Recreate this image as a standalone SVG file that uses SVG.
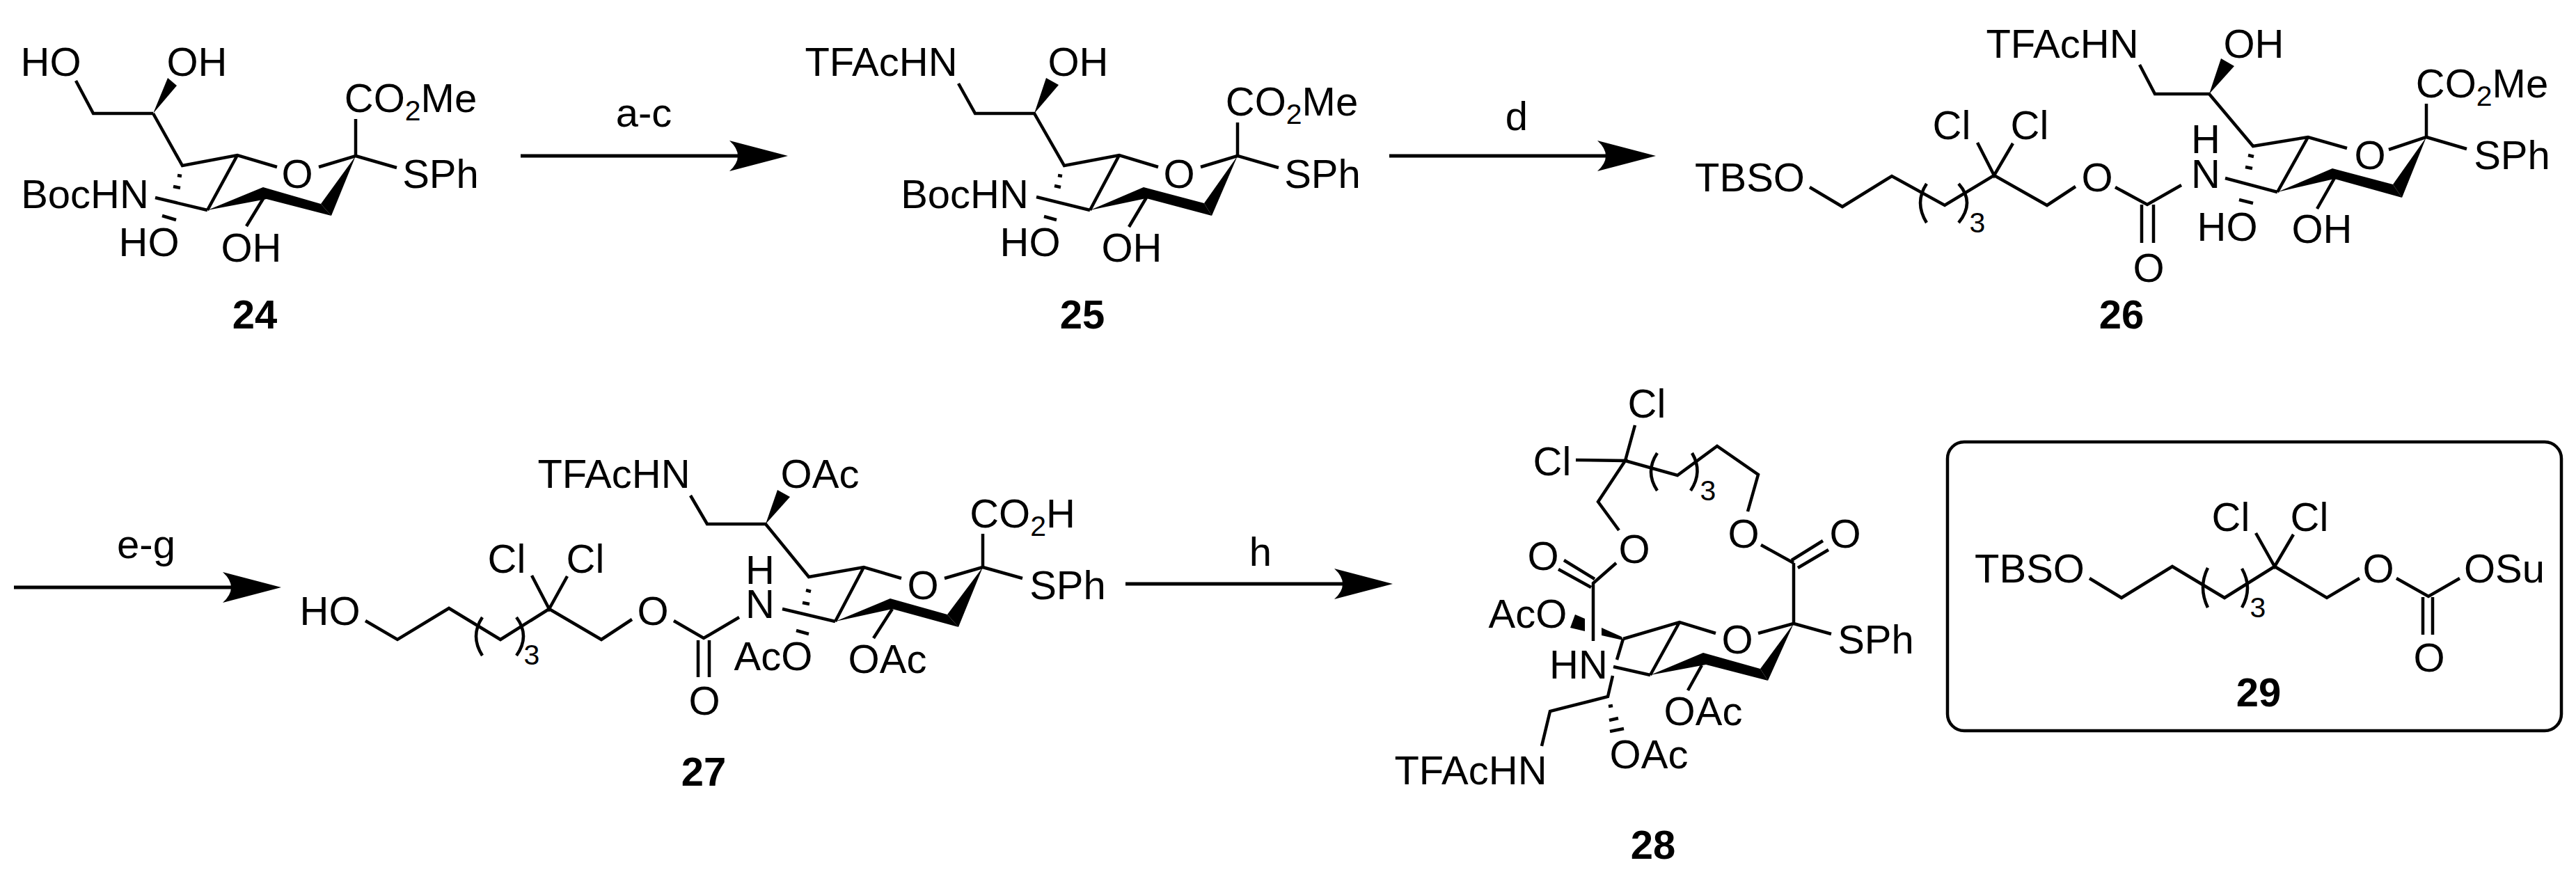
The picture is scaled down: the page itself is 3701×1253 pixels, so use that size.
<svg xmlns="http://www.w3.org/2000/svg" width="3701" height="1253" viewBox="0 0 3701 1253">
<style>
text{font-family:"Liberation Sans",Arial,sans-serif;font-size:58px;fill:#000;text-anchor:middle}
.num{font-weight:bold}
.sub{font-size:41px}
.bond{fill:none;stroke:#000;stroke-width:4.5;stroke-linecap:butt;stroke-linejoin:miter}
.hash{fill:none;stroke:#000;stroke-width:4.5}
.solid{fill:#000;stroke:none}
.arrow{fill:none;stroke:#000;stroke-width:5;marker-end:url(#head)}
.box{fill:none;stroke:#000;stroke-width:4.5}
</style>
<defs>
<marker id="head" markerUnits="userSpaceOnUse" markerWidth="90" markerHeight="50" refX="12" refY="22" orient="auto">
<path d="M0,0 L84,22 L0,44 Q24,22 0,0Z" fill="#000"/>
</marker>
</defs>
<rect width="3701" height="1253" fill="#fff"/>
<g id="connectors">
<path class="arrow" d="M748,224H1060"/>
<path class="arrow" d="M1996,224H2307"/>
<path class="arrow" d="M20,844H332"/>
<path class="arrow" d="M1617,839H1929"/>
</g>
<g id="arrow-labels">
<text x="925" y="182">a-c</text>
<text x="2179" y="187">d</text>
<text x="210" y="802">e-g</text>
<text x="1811" y="813">h</text>
</g>
<g id="compound-24">
<path class="bond" d="M109,116L134,163H220M220,163L262,238L341,223L398,240M458,240L511,224V171M511,224L570,241M341,223L298,302M223,284L298,302M379,284L354,325"/>
<path class="solid" d="M220,163L241,112L254,123Z"/>
<path class="solid" d="M511,224L461,293L476,310Z"/>
<path class="solid" d="M298,302L378,269L461,293L476,310L383,286Z"/>
<path class="hash" d="M255,252L261,253M249,268L259,270M233,310L253,316"/>
<text x="73" y="109">HO</text>
<text x="283" y="109">OH</text>
<text x="427" y="270">O</text>
<text x="590" y="161">CO<tspan class="sub" dy="12">2</tspan><tspan dy="-12">Me</tspan></text>
<text x="633" y="270">SPh</text>
<text x="122" y="299">BocHN</text>
<text x="214" y="368">HO</text>
<text x="361" y="376">OH</text>
<text class="num" x="366" y="472">24</text>
</g>
<g id="compound-25">
<path class="bond" d="M1377,120L1401,163H1486L1529,238L1608,223L1664,240M1725,240L1778,224V176M1778,224L1837,241M1608,223L1566,302M1489,283L1566,302M1647,284L1622,326"/>
<path class="solid" d="M1486,163L1503,112L1521,122Z"/>
<path class="solid" d="M1778,224L1730,292L1741,310Z"/>
<path class="solid" d="M1566,302L1643,269L1730,292L1741,310L1647,285Z"/>
<path class="hash" d="M1520,252L1526,253M1515,267L1524,269M1500,311L1518,316"/>
<text x="1266" y="109">TFAcHN</text>
<text x="1549" y="109">OH</text>
<text x="1694" y="270">O</text>
<text x="1856" y="166">CO<tspan class="sub" dy="12">2</tspan><tspan dy="-12">Me</tspan></text>
<text x="1900" y="270">SPh</text>
<text x="1386" y="299">BocHN</text>
<text x="1480" y="368">HO</text>
<text x="1626" y="376">OH</text>
<text class="num" x="1555" y="472">25</text>
</g>
<g id="compound-26">
<path class="bond" d="M3074,93L3096,135H3174L3237,210L3316,197L3372,213M3432,215L3486,197V149M3486,197L3544,214M3316,197L3272,276M3197,256L3272,276M3354,256L3329,300M3134,266L3085,294L3039,269M2982,268L2941,295L2865,252M2841,205L2865,252L2892,206M2865,252L2794,295L2718,253L2647,297L2600,269"/>
<path class="bond" d="M3077,294V349M3094,294V349"/>
<path class="bond" d="M2768,264Q2750,291 2768,320M2814,264Q2838,291 2814,320"/>
<path class="solid" d="M3174,135L3191,84L3210,95Z"/>
<path class="solid" d="M3486,197L3438,265L3451,284Z"/>
<path class="solid" d="M3272,276L3351,242L3438,265L3451,284L3354,257Z"/>
<path class="hash" d="M3230,223L3238,225M3226,240L3236,242M3217,287L3237,292"/>
<text x="2963" y="83">TFAcHN</text>
<text x="3238" y="83">OH</text>
<text x="3405" y="243">O</text>
<text x="3566" y="140">CO<tspan class="sub" dy="12">2</tspan><tspan dy="-12">Me</tspan></text>
<text x="3609" y="243">SPh</text>
<text x="3169" y="220">H</text>
<text x="3169" y="270">N</text>
<text x="3013" y="275">O</text>
<text x="3087" y="405">O</text>
<text x="2804" y="200">Cl</text>
<text x="2916" y="200">Cl</text>
<text x="2514" y="275">TBSO</text>
<text class="sub" x="2841" y="334">3</text>
<text x="3200" y="346">HO</text>
<text x="3336" y="349">OH</text>
<text class="num" x="3048" y="472">26</text>
</g>
<g id="compound-27">
<path class="bond" d="M992,712L1016,753H1100L1162,829L1241,815L1295,831M1357,831L1412,815V767M1412,815L1469,831M1241,815L1200,893M1124,875L1200,893M1282,875L1255,917M1062,887L1011,917L968,892M908,890L864,919L789,875M764,827L789,875L815,828M789,875L719,919L645,874L571,919L525,892"/>
<path class="bond" d="M1003,920V973M1019,920V973"/>
<path class="bond" d="M693,887Q675,914 693,942M742,887Q762,914 742,942"/>
<path class="solid" d="M1100,753L1117,704L1135,714Z"/>
<path class="solid" d="M1412,815L1361,883L1377,901Z"/>
<path class="solid" d="M1200,893L1279,860L1361,883L1377,901L1282,875Z"/>
<path class="hash" d="M1158,848L1165,850M1153,866L1163,868M1144,906L1162,911"/>
<text x="882" y="701">TFAcHN</text>
<text x="1178" y="701">OAc</text>
<text x="1326" y="861">O</text>
<text x="1469" y="758">CO<tspan class="sub" dy="12">2</tspan><tspan dy="-12">H</tspan></text>
<text x="1534" y="861">SPh</text>
<text x="1092" y="839">H</text>
<text x="1092" y="888">N</text>
<text x="938" y="898">O</text>
<text x="1012" y="1027">O</text>
<text x="728" y="823">Cl</text>
<text x="841" y="823">Cl</text>
<text x="474" y="898">HO</text>
<text class="sub" x="764" y="955">3</text>
<text x="1111" y="963">AcO</text>
<text x="1275" y="967">OAc</text>
<text class="num" x="1011" y="1129">27</text>
</g>
<g id="compound-28">
<path class="solid" d="M2263,883L2256,902L2277,907V889Z"/>
<path class="solid" d="M2301,902V913L2332,920L2330,915Z"/>
<path class="bond" d="M2349,611L2335,662M2264,661L2335,662L2296,721L2326,762M2322,809L2289,838V921M2247,805L2291,832M2239,818L2286,844M2332,918L2413,894L2465,910M2526,910L2577,896V809M2574,805L2619,777M2583,816L2627,790M2577,809L2530,783M2511,735L2526,682L2467,641L2410,683L2335,662M2577,896L2631,911M2413,894L2371,970M2332,918L2323,948M2318,958L2371,970M2317,971L2310,1001L2227,1022L2215,1072M2445,956L2425,992"/>
<path class="bond" d="M2381,651Q2363,678 2381,705M2431,651Q2447,678 2429,705"/>
<path class="solid" d="M2577,896L2529,961L2540,978Z"/>
<path class="solid" d="M2371,970L2447,938L2529,961L2540,978L2451,955Z"/>
<path class="hash" d="M2311,1015L2317,1014M2312,1035L2325,1032M2313,1051L2333,1047"/>
<text x="2366" y="600">Cl</text>
<text x="2230" y="683">Cl</text>
<text x="2348" y="809">O</text>
<text x="2217" y="819">O</text>
<text x="2505" y="787">O</text>
<text x="2651" y="787">O</text>
<text class="sub" x="2454" y="719">3</text>
<text x="2195" y="902">AcO</text>
<text x="2496" y="939">O</text>
<text x="2695" y="939">SPh</text>
<text x="2268" y="975">HN</text>
<text x="2447" y="1042">OAc</text>
<text x="2369" y="1104">OAc</text>
<text x="2113" y="1127">TFAcHN</text>
<text class="num" x="2375" y="1234">28</text>
</g>
<g id="compound-29">
<rect class="box" x="2798" y="635" width="882" height="415" rx="24" ry="24"/>
<path class="bond" d="M3002,831L3048,859L3121,814L3196,859L3268,814L3343,859L3390,831M3443,831L3489,857L3534,831M3241,766L3268,814L3295,768"/>
<path class="bond" d="M3481,858V912M3495,858V912"/>
<path class="bond" d="M3172,816Q3158,844 3172,873M3221,817Q3237,845 3221,873"/>
<text x="2916" y="837">TBSO</text>
<text x="3205" y="763">Cl</text>
<text x="3318" y="763">Cl</text>
<text x="3417" y="837">O</text>
<text x="3598" y="837">OSu</text>
<text x="3490" y="965">O</text>
<text class="sub" x="3244" y="887">3</text>
<text class="num" x="3245" y="1015">29</text>
</g>
</svg>
